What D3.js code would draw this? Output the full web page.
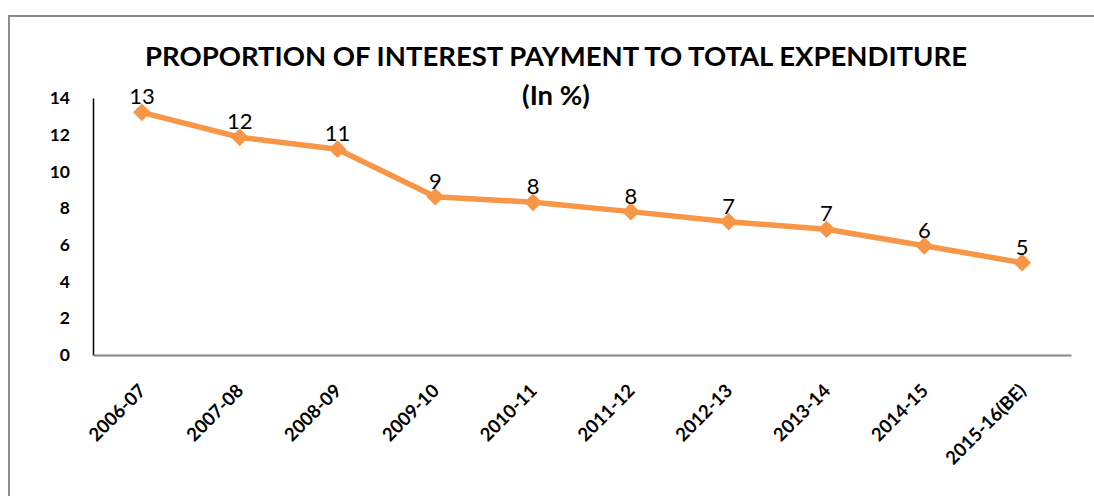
<!DOCTYPE html>
<html>
<head>
<meta charset="utf-8">
<script src="https://cdn.jsdelivr.net/npm/d3@7"></script>
<style>
  body { margin: 0; background: #fff; }
  svg { display: block; }
</style>
</head>
<body>
<div id="chart"></div>
<script>
const years = ["2006-07", "2007-08", "2008-09", "2009-10", "2010-11", "2011-12", "2012-13", "2013-14", "2014-15", "2015-16(BE)"];
const shares = [13.22, 11.86, 11.21, 8.62, 8.32, 7.81, 7.26, 6.85, 5.95, 5.03];
const yTicks = [0, 2, 4, 6, 8, 10, 12, 14];

const W = 1094;
const H = 496;
const M = { top: 98, right: 23, bottom: 141, left: 93 };
const FONT = "Lato, 'Open Sans', sans-serif";

const rows = years.map((y, i) => ({ year: y, value: shares[i] }));

const svg = d3.select("#chart").append("svg").attr("width", W).attr("height", H);

// Rahmen (rechts/unten abgeschnitten)
svg.append("rect")
  .attr("x", 9).attr("y", 16)
  .attr("width", W + 20).attr("height", H + 20)
  .attr("fill", "none")
  .attr("stroke", "#8c8c8c")
  .attr("stroke-width", 2);

// Titel
svg.append("text")
  .attr("x", 556).attr("y", 66)
  .attr("text-anchor", "middle")
  .attr("font-family", FONT)
  .attr("font-size", 27.5)
  .attr("font-weight", "bold")
  .text("PROPORTION OF INTEREST PAYMENT TO TOTAL EXPENDITURE");

svg.append("text")
  .attr("x", 556).attr("y", 105)
  .attr("text-anchor", "middle")
  .attr("font-family", FONT)
  .attr("font-size", 27.5)
  .attr("font-weight", "bold")
  .text("(In %)");

const x = d3.scaleBand()
  .domain(years)
  .range([M.left, W - M.right]);

const y = d3.scaleLinear()
  .domain([0, 14])
  .range([H - M.bottom, M.top]);

// Y-Achse
svg.append("g")
  .attr("transform", `translate(${M.left},0)`)
  .call(d3.axisLeft(y).tickValues(yTicks).tickSize(0).tickPadding(23))
  .call(g => g.select(".domain").attr("stroke", "#000").attr("stroke-width", 1.5))
  .call(g => g.selectAll("text")
    .attr("font-family", FONT)
    .attr("font-size", 17.5)
    .attr("font-weight", "bold")
    .attr("fill", "#000"));

// X-Achse
svg.append("g")
  .attr("transform", `translate(0,${H - M.bottom})`)
  .call(d3.axisBottom(x).tickSize(0).tickPadding(0))
  .call(g => g.select(".domain").attr("stroke", "#868686").attr("stroke-width", 2))
  .call(g => g.selectAll("text")
    .attr("font-family", FONT)
    .attr("font-size", 18.5)
    .attr("font-weight", "bold")
    .attr("fill", "#000")
    .attr("text-anchor", "end")
    .attr("dy", 0)
    .attr("transform", "translate(5,37) rotate(-45)"));

const cx = d => x(d.year) + x.bandwidth() / 2;

// Linie
svg.append("path")
  .datum(rows)
  .attr("fill", "none")
  .attr("stroke", "#f79646")
  .attr("stroke-width", 5.5)
  .attr("stroke-linejoin", "round")
  .attr("d", d3.line().x(cx).y(d => y(d.value)));

// Marker
svg.append("g")
  .selectAll("path")
  .data(rows)
  .join("path")
  .attr("transform", d => `translate(${cx(d)},${y(d.value)})`)
  .attr("d", d3.symbol(d3.symbolDiamond2, 200))
  .attr("fill", "#f79646");

// Werte
svg.append("g")
  .selectAll("text")
  .data(rows)
  .join("text")
  .attr("x", cx)
  .attr("y", d => y(d.value) - 8)
  .attr("text-anchor", "middle")
  .attr("font-family", FONT)
  .attr("font-size", 22)
  .attr("fill", "#000")
  .text(d => Math.round(d.value));
</script>
</body>
</html>
